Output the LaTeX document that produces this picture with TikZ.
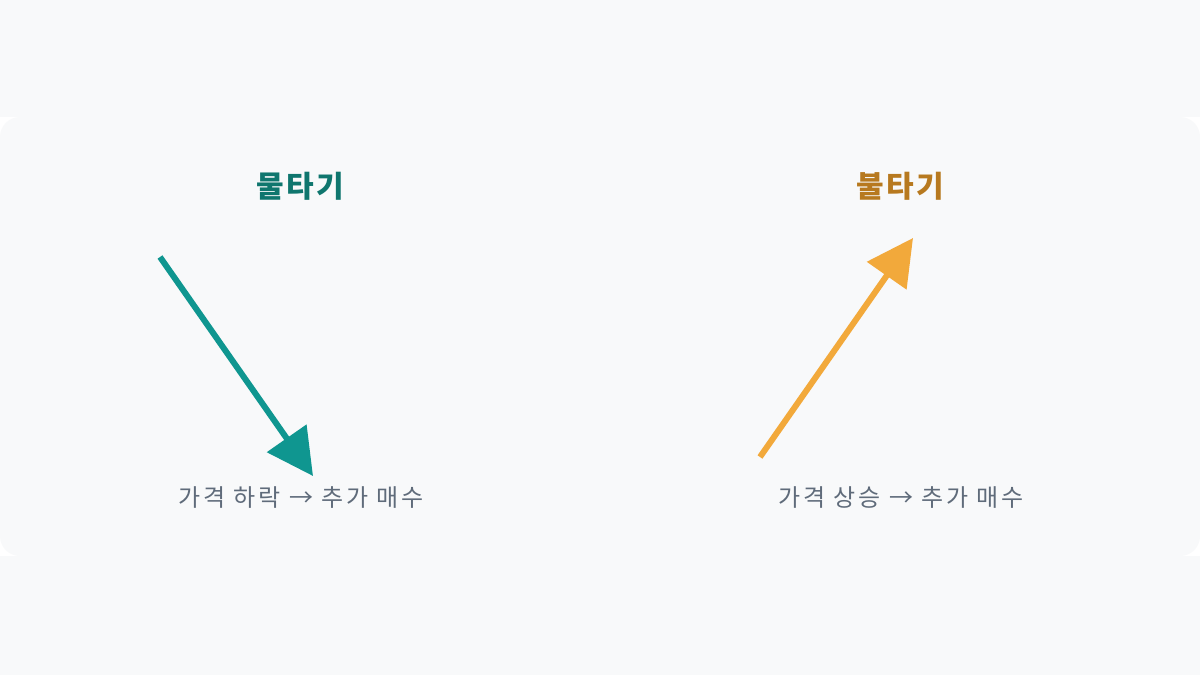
\documentclass[tikz,border=0pt]{standalone}
\usepackage{fontspec}
\setmainfont{Noto Sans CJK KR}
\usetikzlibrary{arrows.meta}
\definecolor{bg}{HTML}{F8F9FA}
\definecolor{teal}{HTML}{0F9690}
\definecolor{tealtxt}{HTML}{0F766E}
\definecolor{orng}{HTML}{F2A93B}
\definecolor{orngtxt}{HTML}{B7791F}
\definecolor{lbl}{HTML}{5F6B7A}
\tikzset{
  title/.style={font=\fontsize{30}{34}\selectfont\bfseries\addfontfeature{LetterSpace=8}, anchor=center, inner sep=0pt},
  label/.style={font=\fontsize{24}{28}\selectfont\addfontfeature{LetterSpace=12}, text=lbl, anchor=center, inner sep=0pt},
  arr/.style={line width=6pt, -{Triangle[length=46pt,width=47pt]}, shorten >=0pt}
}
\begin{document}
\begin{tikzpicture}[x=1pt,y=-1pt]
\useasboundingbox (0,0) rectangle (1200,675);
\fill[bg] (0,0) rectangle (1200,675);
\fill[white] (0,117) rectangle (1200,556);
\fill[bg, rounded corners=20pt] (0,117) rectangle (1200,556);
\node[title, text=tealtxt] (t1) at (300,186) {물타기};
\node[title, text=orngtxt] (t2) at (900,186) {불타기};
\node[label] (l1) at (301,498) {가격 하락 → 추가 매수};
\node[label] (l2) at (901,498) {가격 상승 → 추가 매수};
\coordinate (a1s) at (160,257);
\coordinate (a1e) at (313,476);
\coordinate (a2s) at (760,457);
\coordinate (a2e) at (913,238);
\draw[arr, teal] (a1s) -- (a1e);
\draw[arr, orng] (a2s) -- (a2e);
\end{tikzpicture}
\end{document}
